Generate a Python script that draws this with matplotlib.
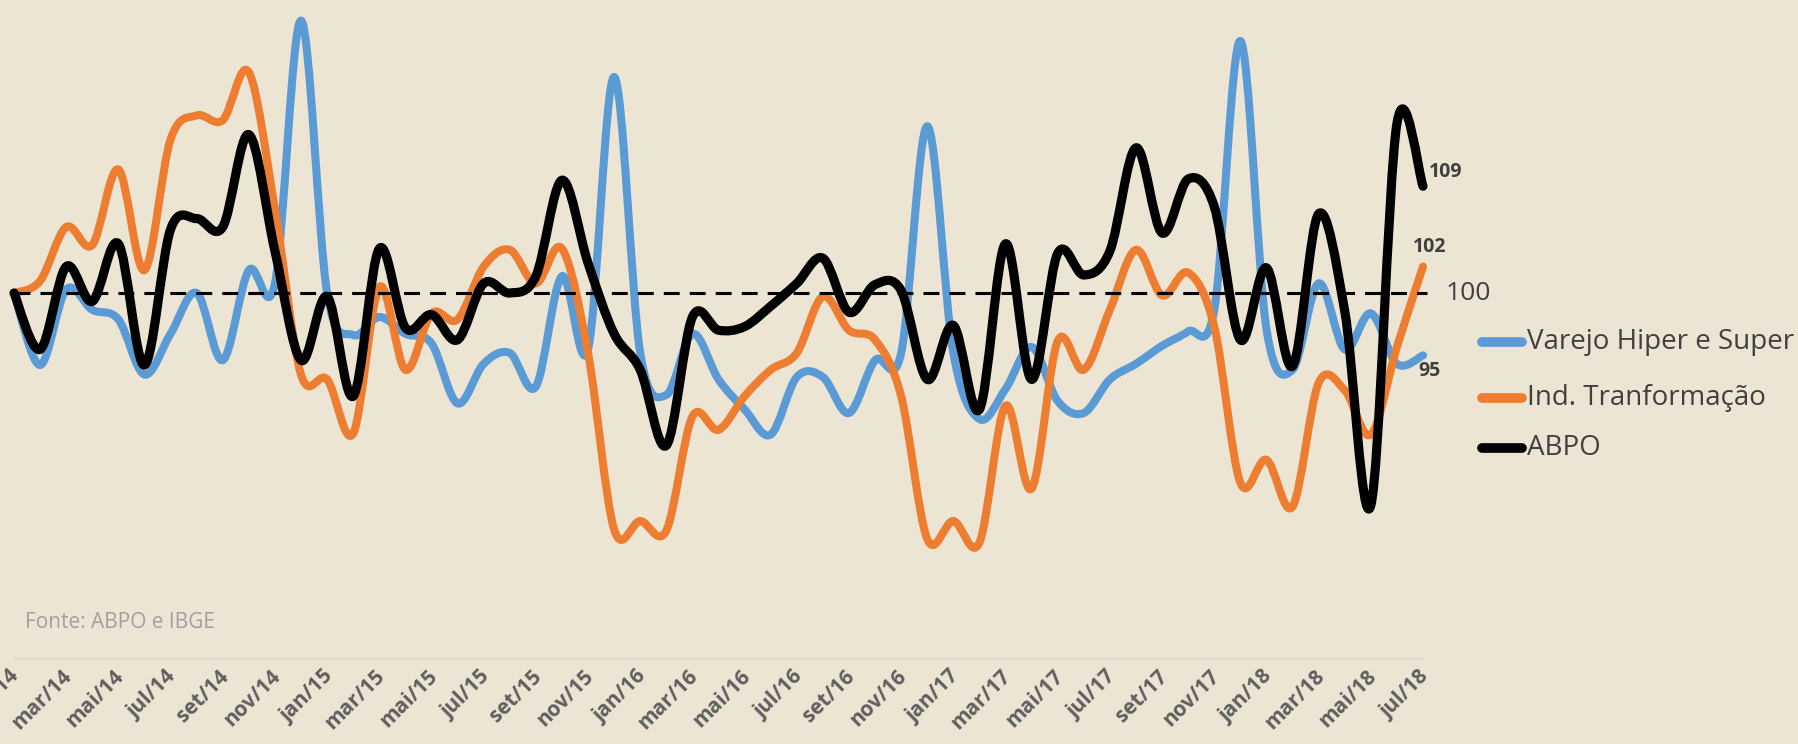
import matplotlib
matplotlib.use("Agg")
import matplotlib.pyplot as plt
import matplotlib.transforms as mtransforms
from matplotlib.path import Path
from matplotlib.patches import PathPatch
from matplotlib.lines import Line2D

# months jan/14 .. jul/18
month_names = ['jan', 'fev', 'mar', 'abr', 'mai', 'jun', 'jul', 'ago', 'set', 'out', 'nov', 'dez']
months = [f"{month_names[i % 12]}/{14 + i // 12}" for i in range(55)]

varejo = [100, 94.0, 100.3, 98.6, 97.8, 93.2, 96.6, 100.0, 94.4, 101.9, 100.8, 122.7,
          100.0, 96.5, 98.0, 96.6, 95.8, 90.8, 94.1, 95.0, 92.2, 101.4, 95.3, 118.0,
          95.0, 91.5, 96.6, 92.8, 90.3, 88.2, 93.0, 93.0, 90.0, 94.4, 95.0, 113.9,
          95.0, 89.5, 92.0, 95.5, 91.0, 90.0, 92.8, 94.1, 95.6, 96.8, 98.6, 121.0,
          97.0, 93.6, 100.8, 95.3, 98.3, 94.1, 94.8]

industria = [100, 101.0, 105.5, 104.0, 110.3, 101.9, 112.8, 114.8, 114.4, 118.4, 107.0, 93.2,
             92.8, 88.3, 100.5, 93.6, 98.3, 97.8, 102.2, 103.6, 100.8, 103.7, 95.0, 80.3,
             81.0, 80.2, 89.7, 88.6, 91.4, 93.6, 95.0, 99.7, 96.9, 96.1, 91.4, 79.5,
             81.0, 79.2, 90.6, 83.7, 96.0, 93.6, 98.6, 103.6, 99.8, 101.7, 97.2, 84.2,
             86.1, 82.2, 92.5, 91.9, 88.2, 95.5, 102.2]

abpo = [100, 95.3, 102.2, 99.3, 104.1, 94.0, 105.3, 106.2, 105.5, 113.2, 103.5, 94.4,
        99.7, 91.4, 103.7, 97.1, 98.2, 96.1, 100.8, 100.0, 101.4, 109.4, 102.5, 96.6,
        93.6, 87.3, 98.0, 96.9, 97.2, 98.9, 100.8, 102.9, 98.4, 100.7, 100.2, 92.8,
        97.3, 90.3, 104.1, 92.8, 103.3, 101.5, 103.5, 112.1, 105.0, 109.5, 107.2, 96.1,
        102.1, 93.9, 106.6, 98.5, 82.3, 114.1, 108.9]

series_names = ['Varejo Hiper e Super', 'Ind. Tranformação', 'ABPO']
series_values = [varejo, industria, abpo]
series_colors = ['#5B9BD5', '#ED7D31', '#000000']
series_widths = [5.8, 5.8, 6.6]
base_value = 100

BG = '#ece5d4'
W, H = 1799, 744


def smooth_path(x, y):
    # excel style smoothed line (catmull-rom as bezier)
    verts = [(x[0], y[0])]
    codes = [Path.MOVETO]
    n = len(x)
    for i in range(n - 1):
        xp, yp = (x[i - 1], y[i - 1]) if i > 0 else (x[i], y[i])
        xn, yn = (x[i + 2], y[i + 2]) if i + 2 < n else (x[i + 1], y[i + 1])
        c1 = (x[i] + (x[i + 1] - xp) / 6, y[i] + (y[i + 1] - yp) / 6)
        c2 = (x[i + 1] - (xn - x[i]) / 6, y[i + 1] - (yn - y[i]) / 6)
        verts += [c1, c2, (x[i + 1], y[i + 1])]
        codes += [Path.CURVE4] * 3
    return Path(verts, codes)


plt.rcParams['font.family'] = ['Open Sans', 'DejaVu Sans']

fig = plt.figure(figsize=(W / 100, H / 100), dpi=100, facecolor=BG)

# axes placed in pixels: x from 14 to 1423, bottom line at 659
left, right = 14, 1423
bottom_px = 659
ax = fig.add_axes([left / W, 1 - bottom_px / H, (right - left) / W, bottom_px / H])
ax.set_facecolor('none')
px_per_unit = 12.0
ax.set_xlim(0, len(months) - 1)
ax.set_ylim(base_value - (bottom_px - 293) / px_per_unit, base_value + 293 / px_per_unit)

for sp in ['top', 'right', 'left']:
    ax.spines[sp].set_visible(False)
ax.spines['bottom'].set_color('#e0d8c6')
ax.spines['bottom'].set_linewidth(1.2)
ax.tick_params(axis='y', left=False, labelleft=False)
ax.tick_params(axis='x', length=0, pad=5, labelsize=15, labelcolor='#5f5f5f')

xs = list(range(len(months)))
for vals, color, lw in zip(series_values, series_colors, series_widths):
    patch = PathPatch(smooth_path(xs, vals), facecolor='none', edgecolor=color,
                      lw=lw, capstyle='round', joinstyle='round', clip_on=False)
    ax.add_patch(patch)

# reference line at 100
ax.plot([0, len(months) - 1 + 0.15], [base_value, base_value], color='black', lw=2.2,
        linestyle=(0, (5.2, 3.3)), clip_on=False, zorder=5)

ax.set_xticks(xs[::2])
ax.set_xticklabels(months[::2], rotation=45, ha='right', va='top', fontweight='bold')
offset = mtransforms.ScaledTranslation(10 / 100, 0, fig.dpi_scale_trans)
for lab in ax.get_xticklabels():
    lab.set_transform(lab.get_transform() + offset)

# end labels
last = len(months) - 1
end_offsets = [(-3, -11), (-7, 14), (4, 10)]
for vals, off in zip(series_values, end_offsets):
    ax.annotate(f"{vals[-1]:.0f}", (last, vals[-1]), xytext=off, textcoords='offset points',
                ha='left', va='center', fontsize=14, fontweight='bold', color='#404040',
                annotation_clip=False)
ax.annotate(f"{base_value}", (last, base_value), xytext=(16, 0), textcoords='offset points',
            ha='left', va='center', fontsize=19, color='#404040', annotation_clip=False)

# legend drawn by hand
leg_y = [342, 398, 448]
for name, color, y in zip(series_names, series_colors, leg_y):
    fig.add_artist(Line2D([1482 / W, 1522 / W], [1 - y / H, 1 - y / H], color=color,
                          lw=7, solid_capstyle='round', transform=fig.transFigure))
    fig.text(1527 / W, 1 - y / H, name, ha='left', va='center', fontsize=20, color='#404040')

fig.text(25 / W, 1 - 623 / H, 'Fonte: ABPO e IBGE', ha='left', va='center',
         fontsize=15, color='#a0a0a0')

fig.savefig('out.png', dpi=100, facecolor=BG)
